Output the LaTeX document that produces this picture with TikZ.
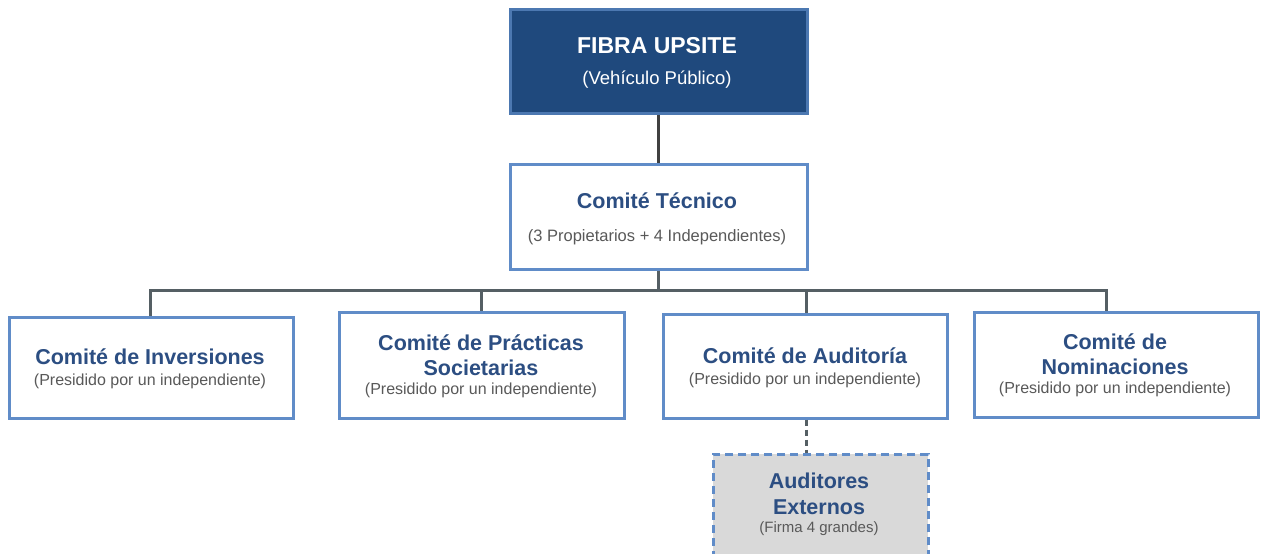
\documentclass[tikz,border=0pt]{standalone}
\usepackage{fontspec}
\setmainfont{Liberation Sans}
\definecolor{darkfill}{RGB}{31,73,125}
\definecolor{boxborder}{RGB}{96,140,200}
\definecolor{titleblue}{RGB}{44,78,130}
\definecolor{subgray}{RGB}{89,89,89}
\definecolor{linegray}{RGB}{85,95,100}
\definecolor{auditfill}{RGB}{217,217,217}
\begin{document}
\begin{tikzpicture}[x=1pt,y=-1pt,
  orgbox/.style={draw=boxborder,line width=2.6pt,fill=white,inner sep=0pt,align=center,anchor=north west},
  ttl/.style={font=\fontsize{21.5}{25.5}\selectfont\bfseries,text=titleblue,inner sep=0pt},
  sub/.style={text=subgray,font=\fontsize{16}{18}\selectfont,inner sep=0pt},
  conn/.style={draw=linegray,line width=3pt}]
\useasboundingbox (0,0) rectangle (1261,554);
% top box
\node[orgbox,fill=darkfill,draw=boxborder!70!darkfill,minimum width=297pt,minimum height=104pt] (fibra) at (509,8) {};
\node[text=white,font=\fontsize{23}{26}\selectfont\bfseries,inner sep=0pt] (fibraT) at (657,46) {FIBRA UPSITE};
\node[text=white,font=\fontsize{18.5}{21}\selectfont,inner sep=0pt] (fibraS) at (657,80) {(Vehículo Público)};
% tecnico
\node[orgbox,minimum width=297pt,minimum height=105pt] (tec) at (509,163) {};
\node[ttl] (tecT) at (657,201) {Comité Técnico};
\node[sub,font=\fontsize{16.5}{19}\selectfont] (tecS) at (657,237) {(3 Propietarios + 4 Independientes)};
% committees
\node[orgbox,minimum width=284pt,minimum height=101pt] (inv) at (8,316) {};
\node[ttl] (invT) at (150,357) {Comité de Inversiones};
\node[sub] (invS) at (150,381) {(Presidido por un independiente)};

\node[orgbox,minimum width=285pt,minimum height=106pt] (pra) at (338,311) {};
\node[ttl,align=center] (praT) at (481,355) {Comité de Prácticas\\Societarias};
\node[sub] (praS) at (481,390) {(Presidido por un independiente)};

\node[orgbox,minimum width=284pt,minimum height=104pt] (aud) at (662,313) {};
\node[ttl] (audT) at (805,356) {Comité de Auditoría};
\node[sub] (audS) at (805,380) {(Presidido por un independiente)};

\node[orgbox,minimum width=284pt,minimum height=105pt] (nom) at (973,311) {};
\node[ttl,align=center] (nomT) at (1115,354) {Comité de\\Nominaciones};
\node[sub] (nomS) at (1115,389) {(Presidido por un independiente)};

% external auditors
\node[orgbox,fill=auditfill,dashed,dash pattern=on 8pt off 5pt,minimum width=215pt,minimum height=110pt] (ext) at (712,453) {};
\node[ttl,align=center] (extT) at (819,494) {Auditores\\Externos};
\node[sub,font=\fontsize{15}{17}\selectfont] (extS) at (819,529) {(Firma 4 grandes)};

% connectors
\coordinate (bus) at (657,290);
\coordinate (extTop) at (806,453);
\draw[conn,draw=black!75] (fibra.south) -- (tec.north);
\draw[conn] (tec.south) -- (tec.south |- bus);
\draw[conn,line cap=rect] (150,290) -- (1106,290);
\draw[conn] (150,290) -- (inv.north -| 150,0);
\draw[conn] (481,290) -- (pra.north -| 481,0);
\draw[conn] (806,290) -- (aud.north -| 806,0);
\draw[conn] (1106,290) -- (nom.north -| 1106,0);
\draw[conn,dash pattern=on 6pt off 4pt] (aud.south -| extTop) -- (extTop);
\end{tikzpicture}
\end{document}
